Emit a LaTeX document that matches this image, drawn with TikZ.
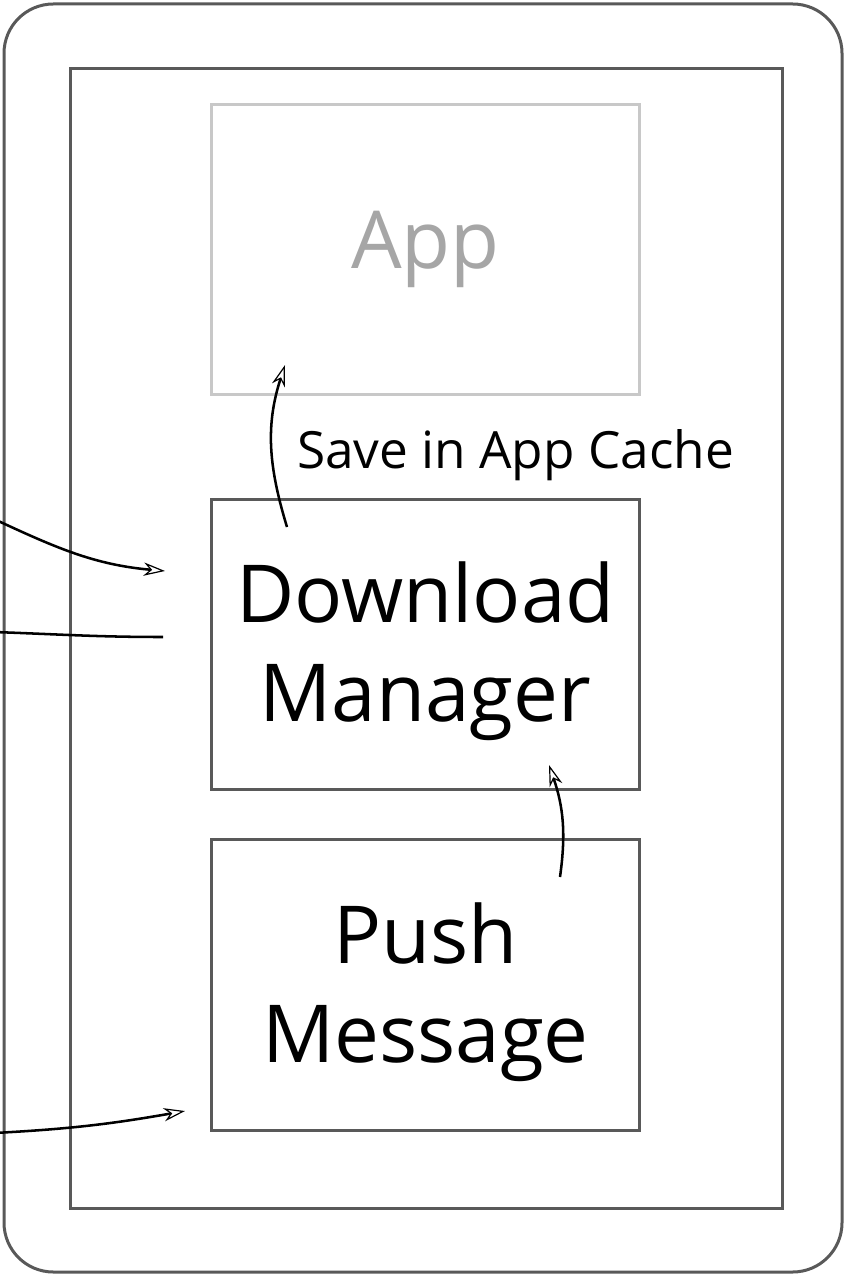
\documentclass[tikz,border=0pt]{standalone}
\usepackage{fontspec}
\usepackage{tikz}
\usetikzlibrary{arrows.meta}
\setmainfont{Open Sans}
\definecolor{framegray}{HTML}{595959}
\definecolor{appline}{HTML}{C8C8C8}
\definecolor{apptext}{HTML}{A6A6A6}
\newcommand{\boxfont}{\fontsize{60pt}{74pt}\selectfont}
\newcommand{\labelfont}{\fontsize{38.5pt}{44pt}\selectfont}

\begin{document}
\begin{tikzpicture}[x=0.75pt,y=-0.75pt]
        \tikzstyle{frame} = [draw=framegray,line width=2.25pt]
        \tikzstyle{block} = [rectangle,draw=framegray,line width=2.25pt,
          inner sep=0pt,minimum width=321pt,minimum height=218pt,
          align=center,font=\boxfont]
        \tikzstyle{link} = [-{Stealth[open,length=16pt,width=10pt,inset=5pt,line width=0.9pt]},
          line width=1.9pt]
        \useasboundingbox (0,0) rectangle (846,1276);
        % device outline
        \draw [frame,rounded corners=37pt] (4,4) rectangle (842,1272);
        \draw [frame] (70,69) rectangle (782,1208);
        % boxes
        \node [block,draw=appline,text=apptext] (app) at (425.5,249.5) {App};
        \node [block,text depth=4pt] (dlm) at (425.5,644.5) {Download\\Manager};
        \node [block,text depth=4pt] (push) at (425.5,985) {Push\\Message};
        \node [font=\labelfont,inner sep=0pt,anchor=base] (cache) at (515.5,468) {Save in App Cache};
        % connector ends
        \coordinate (in1) at (-6,519);
        \coordinate (in2) at (-6,632);
        \coordinate (in3) at (-6,1133);
        \coordinate (dlmin1) at (165,571);
        \coordinate (dlmin2) at (163,637);
        \coordinate (pushin) at (185,1111);
        \coordinate (dlmout) at (287,527);
        \coordinate (appin) at (285,365);
        \coordinate (pushout) at (560,877);
        \coordinate (dlmup) at (549,765);
        % connectors
        \draw [link] (in1) to[out=-25,in=175] (dlmin1);
        \draw [line width=1.9pt] (in2) to[out=-2,in=180] (dlmin2);
        \draw [link] (in3) to[out=3,in=190] (pushin);
        \draw [link] (dlmout) to[out=107,in=-108] (appin);
        \draw [link] (pushout) to[out=82,in=-71] (dlmup);
      \end{tikzpicture}
\end{document}
